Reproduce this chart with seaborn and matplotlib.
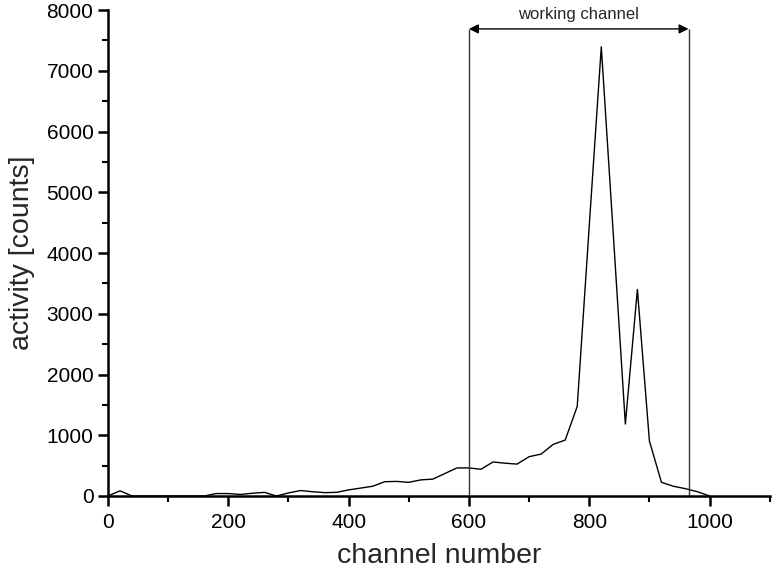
import numpy as np
import pandas as pd
import matplotlib.pyplot as plt
import seaborn as sns
from matplotlib.ticker import MultipleLocator

# spectrum (channel step 20)
channel = list(range(0, 1001, 20))
counts = [0, 85, 0, 0, 0, 0, 0, 0, 0, 40,
          40, 25, 45, 60, 0, 50, 90, 70, 55, 60,
          100, 130, 160, 235, 240, 225, 265, 278, 370, 462,
          462, 440, 560, 540, 525, 647, 690, 850, 920, 1475,
          4450, 7396, 4300, 1185, 3400, 905, 225, 160, 120, 70,
          0]

# working channel window
window_start = 600
window_end = 965
window_label = "working channel"

df = pd.DataFrame({"channel": channel, "counts": counts})

sns.set_style("ticks")
plt.rcParams['font.family'] = ['Liberation Sans', 'DejaVu Sans']

fig = plt.figure(figsize=(7.74, 5.73), dpi=100)
ax = fig.add_axes([0.1395, 0.1344, 0.855, 0.848])

sns.lineplot(data=df, x="channel", y="counts", color="black", linewidth=1.0, ax=ax)

# window marker: two vertical lines and a double arrow
arrow_y = 7690
ax.vlines([window_start, window_end], 0, arrow_y, colors="#333333", linewidth=1.0)
ax.annotate("", xy=(window_start, arrow_y), xytext=(window_end, arrow_y),
            arrowprops=dict(arrowstyle="<|-|>", color="black", lw=1.0,
                            mutation_scale=14, shrinkA=0, shrinkB=0))
ax.text((window_start + window_end) / 2, 7800, window_label,
        ha="center", va="bottom", fontsize=12)

ax.set_xlim(0, 1100)
ax.set_ylim(0, 8000)
ax.xaxis.set_major_locator(MultipleLocator(200))
ax.xaxis.set_minor_locator(MultipleLocator(100))
ax.yaxis.set_major_locator(MultipleLocator(1000))
ax.yaxis.set_minor_locator(MultipleLocator(500))

sns.despine(ax=ax)
for side in ["left", "bottom"]:
    ax.spines[side].set_linewidth(1.8)
    ax.spines[side].set_color("black")
ax.tick_params(which="major", length=7, width=1.8, labelsize=15, colors="black")
ax.tick_params(which="minor", length=4, width=1.5, colors="black")
ax.tick_params(axis="x", which="major", pad=5)

ax.set_xlabel("channel number", fontsize=20.5, labelpad=8)
ax.set_ylabel("activity [counts]", fontsize=20.5, labelpad=8)

fig.savefig("out.png", dpi=100)
